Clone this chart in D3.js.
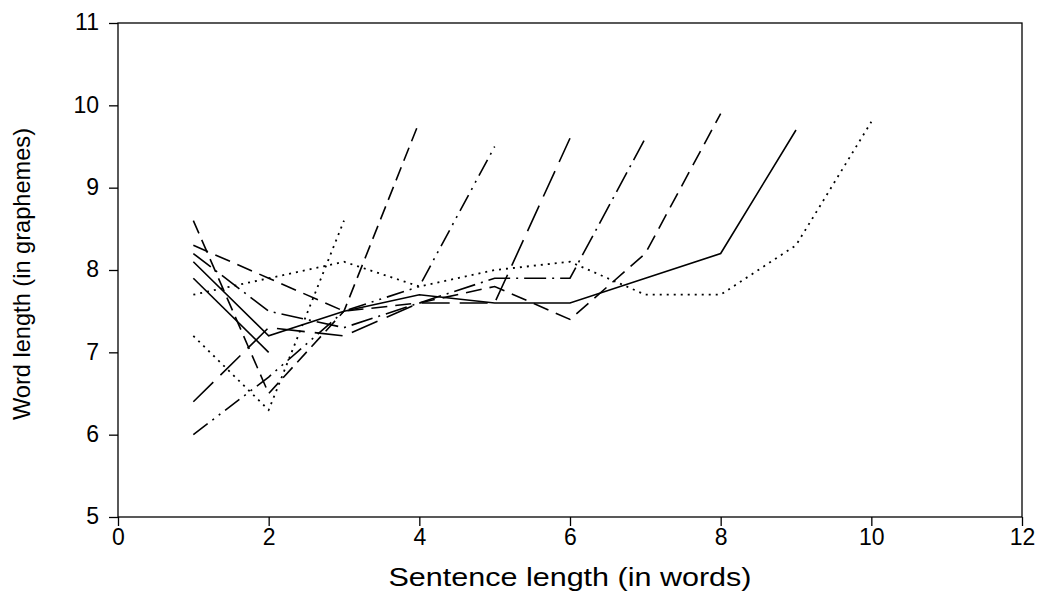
<!DOCTYPE html>
<html>
<head>
<meta charset="utf-8">
<script src="https://cdn.jsdelivr.net/npm/d3@7"></script>
<style>
  html, body { margin: 0; padding: 0; background: #fff; }
  svg { display: block; }
  text { font-family: "Liberation Sans", Arial, sans-serif; fill: #000; }
</style>
</head>
<body>
<svg id="chart" width="1043" height="593"></svg>
<script>
// Mean word length per position, one series per sentence length (2..10 words)
const sentenceLengths = [2, 3, 4, 5, 6, 7, 8, 9, 10];
const len2  = [7.9, 7.0];
const len3  = [7.2, 6.3, 8.6];
const len4  = [8.6, 6.5, 7.5, 9.8];
const len5  = [6.0, 6.7, 7.5, 7.8, 9.5];
const len6  = [6.4, 7.3, 7.2, 7.6, 7.6, 9.6];
const len7  = [8.2, 7.5, 7.3, 7.6, 7.9, 7.9, 9.6];
const len8  = [8.3, 7.9, 7.5, 7.6, 7.8, 7.4, 8.2, 9.9];
const len9  = [8.1, 7.2, 7.5, 7.7, 7.6, 7.6, 7.9, 8.2, 9.7];
const len10 = [7.7, 7.9, 8.1, 7.8, 8.0, 8.1, 7.7, 7.7, 8.3, 9.8];
const seriesValues = [len2, len3, len4, len5, len6, len7, len8, len9, len10];

const xTicks = [0, 2, 4, 6, 8, 10, 12];
const yTicks = [5, 6, 7, 8, 9, 10, 11];
const xTitle = "Sentence length (in words)";
const yTitle = "Word length (in graphemes)";

// Line style per series
const dashStyles = {
  2: null,
  3: "2,5",
  4: "14,7",
  5: "18,6,2,6,2,6",
  6: "28,10",
  7: "22,6,2,6",
  8: "16,8",
  9: null,
  10: "2,5"
};

const svg = d3.select("#chart");
const plot = { left: 118, right: 1022, top: 23, bottom: 517 };

const x = d3.scaleLinear().domain([0, 12]).range([plot.left, plot.right]);
const y = d3.scaleLinear().domain([5, 11]).range([plot.bottom, plot.top]);

// Frame
svg.append("rect")
  .attr("x", plot.left).attr("y", plot.top)
  .attr("width", plot.right - plot.left).attr("height", plot.bottom - plot.top)
  .attr("fill", "none").attr("stroke", "#000").attr("stroke-width", 1.3);

// Axes
const xAxis = svg.append("g")
  .attr("transform", `translate(0,${plot.bottom})`)
  .call(d3.axisBottom(x).tickValues(xTicks).tickSize(9).tickPadding(3).tickFormat(d3.format("d")));
const yAxis = svg.append("g")
  .attr("transform", `translate(${plot.left},0)`)
  .call(d3.axisLeft(y).tickValues(yTicks).tickSize(9).tickPadding(10).tickFormat(d3.format("d")));

[xAxis, yAxis].forEach(g => {
  g.attr("font-size", null).attr("font-family", null);
  g.select(".domain").remove();
  g.selectAll(".tick line").attr("stroke", "#000").attr("stroke-width", 1.3);
  g.selectAll(".tick text")
    .style("font-family", "'Liberation Sans', Arial, sans-serif")
    .style("font-size", "23px").attr("fill", "#000");
});
yAxis.selectAll(".tick text").attr("dy", "0.3em");

// Axis titles
svg.append("text")
  .attr("x", (plot.left + plot.right) / 2).attr("y", 586)
  .attr("text-anchor", "middle").style("font-size", "25px")
  .attr("textLength", 363).attr("lengthAdjust", "spacingAndGlyphs")
  .text(xTitle);

svg.append("text")
  .attr("transform", `translate(30,${(plot.top + plot.bottom) / 2 + 4}) rotate(-90)`)
  .attr("text-anchor", "middle").style("font-size", "24px")
  .attr("textLength", 292).attr("lengthAdjust", "spacingAndGlyphs")
  .text(yTitle);

// Series lines
const line = d3.line()
  .x((d, i) => x(i + 1))
  .y(d => y(d));

svg.append("clipPath").attr("id", "plotClip")
  .append("rect")
  .attr("x", plot.left).attr("y", plot.top)
  .attr("width", plot.right - plot.left).attr("height", plot.bottom - plot.top);

svg.append("g").attr("clip-path", "url(#plotClip)")
  .selectAll("path")
  .data(seriesValues)
  .join("path")
  .attr("d", d => line(d))
  .attr("fill", "none")
  .attr("stroke", "#000")
  .attr("stroke-width", (d, i) => dashStyles[sentenceLengths[i]] === "2,5" ? 1.8 : 1.6)
  .attr("stroke-linejoin", "miter")
  .attr("stroke-dasharray", (d, i) => dashStyles[sentenceLengths[i]]);
</script>
</body>
</html>
